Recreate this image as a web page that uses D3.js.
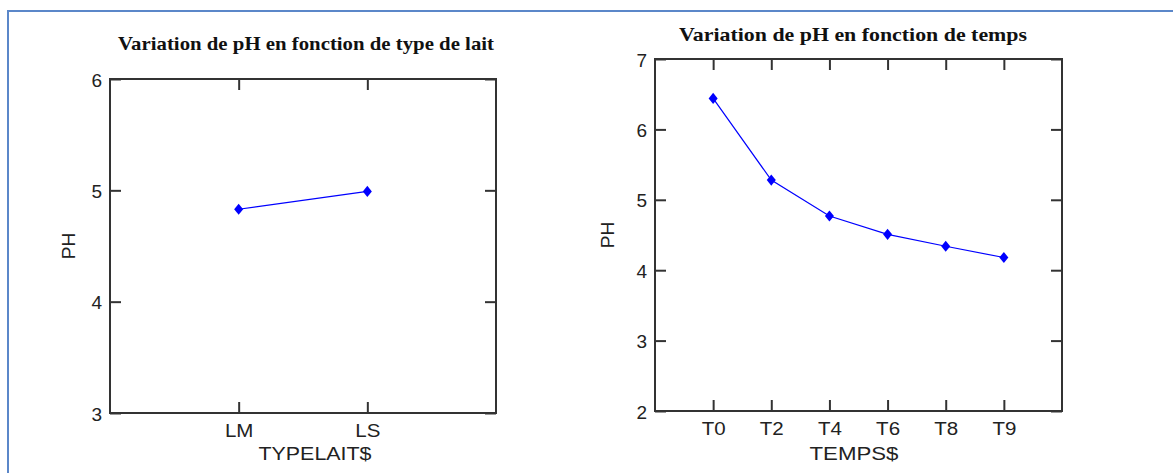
<!DOCTYPE html>
<html><head><meta charset="utf-8">
<script src="https://cdn.jsdelivr.net/npm/d3@7"></script>
<style>
html,body{margin:0;padding:0;background:#fff;}
svg{display:block;}
</style></head>
<body>
<svg id="c" width="1173" height="473"></svg>
<script>
// Data
const laitCategories = ["LM", "LS"];
const laitValues = [4.83, 4.99];
const laitTicks = [3, 4, 5, 6];

const tempsCategories = ["T0", "T2", "T4", "T6", "T8", "T9"];
const tempsValues = [6.44, 5.28, 4.77, 4.51, 4.34, 4.18];
const tempsTicks = [2, 3, 4, 5, 6, 7];

const titles = ["Variation de pH en fonction de type de lait", "Variation de pH en fonction de temps"];
const xLabels = ["TYPELAIT$", "TEMPS$"];
const yLabel = "PH";

const svg = d3.select("#c");

// outer page border
svg.append("line").attr("x1", 8).attr("x2", 1173).attr("y1", 11).attr("y2", 11)
  .attr("stroke", "#5b87c9").attr("stroke-width", 2);
svg.append("line").attr("x1", 8).attr("x2", 8).attr("y1", 10).attr("y2", 473)
  .attr("stroke", "#5b87c9").attr("stroke-width", 2);

function panel(cfg) {
  const {left, right, top, bottom, cats, vals, ticks, title, xlab, titleY, titleW, titleCx, xlabW, xlabCx, ylabX} = cfg;
  const g = svg.append("g");
  const x = d3.scalePoint().domain(cats).range([left, right]).padding(1);
  const y = d3.scaleLinear().domain([ticks[0], ticks[ticks.length - 1]]).range([bottom, top]);
  const tl = 11;
  const axStyle = sel => {
    sel.select(".domain").remove();
    sel.selectAll(".tick line").attr("stroke", "#333").attr("stroke-width", 2);
    sel.selectAll(".tick text").attr("fill", "#222")
      .attr("font-family", "Liberation Sans, Arial, sans-serif").attr("font-size", 19);
  };
  // axes
  g.append("g").attr("transform", `translate(0,${bottom})`)
    .call(d3.axisBottom(x).tickSizeInner(-tl).tickSizeOuter(0))
    .call(axStyle).call(s => s.selectAll(".tick text").attr("dy", 0).attr("y", 24)
      .attr("transform", "scale(1.08,1)"));
  g.append("g").attr("transform", `translate(0,${top})`)
    .call(d3.axisTop(x).tickSizeInner(-tl).tickSizeOuter(0).tickFormat(""))
    .call(axStyle);
  g.append("g").attr("transform", `translate(${left},0)`)
    .call(d3.axisLeft(y).tickValues(ticks).tickFormat(d3.format("d")).tickSizeInner(-tl).tickSizeOuter(0))
    .call(axStyle).call(s => s.selectAll(".tick text").attr("x", -8).attr("dy", "0.37em"));
  g.append("g").attr("transform", `translate(${right},0)`)
    .call(d3.axisRight(y).tickValues(ticks).tickFormat("").tickSizeInner(-tl).tickSizeOuter(0))
    .call(axStyle);
  // frame
  g.append("rect").attr("x", left).attr("y", top).attr("width", right - left).attr("height", bottom - top)
    .attr("fill", "none").attr("stroke", "#333").attr("stroke-width", 2);
  // line
  const pts = cats.map((c, i) => [x(c), y(vals[i])]);
  g.append("path").attr("d", d3.line()(pts)).attr("fill", "none").attr("stroke", "#0000ff").attr("stroke-width", 1.2);
  g.selectAll(".m").data(pts).join("path")
    .attr("transform", d => `translate(${d[0]},${d[1]}) scale(1.4,1.0)`)
    .attr("d", d3.symbol(d3.symbolDiamond, 36)).attr("fill", "#0000ff");
  // title
  g.append("text").attr("x", titleCx).attr("y", titleY).attr("text-anchor", "middle")
    .attr("font-family", "Liberation Serif, Times New Roman, serif").attr("font-weight", "bold")
    .attr("font-size", 19.5).attr("fill", "#111")
    .attr("textLength", titleW).attr("lengthAdjust", "spacingAndGlyphs").text(title);
  // x label
  g.append("text").attr("x", xlabCx).attr("y", 460).attr("text-anchor", "middle")
    .attr("font-family", "Liberation Sans, Arial, sans-serif").attr("font-size", 19).attr("fill", "#222")
    .attr("textLength", xlabW).attr("lengthAdjust", "spacingAndGlyphs").text(xlab);
  // y label
  g.append("text").attr("transform", `translate(${ylabX},${(top + bottom) / 2}) rotate(-90)`)
    .attr("text-anchor", "middle")
    .attr("font-family", "Liberation Sans, Arial, sans-serif").attr("font-size", 19).attr("fill", "#222")
    .text(yLabel);
}

panel({left: 110, right: 496, top: 79, bottom: 413, cats: laitCategories, vals: laitValues,
  ticks: laitTicks, title: titles[0], xlab: xLabels[0], titleY: 50, titleW: 376, titleCx: 306,
  xlabW: 113, xlabCx: 315, ylabX: 75});
panel({left: 655, right: 1062, top: 59, bottom: 411, cats: tempsCategories, vals: tempsValues,
  ticks: tempsTicks, title: titles[1], xlab: xLabels[1], titleY: 41, titleW: 348, titleCx: 853,
  xlabW: 89, xlabCx: 854, ylabX: 614});
</script>
</body></html>
